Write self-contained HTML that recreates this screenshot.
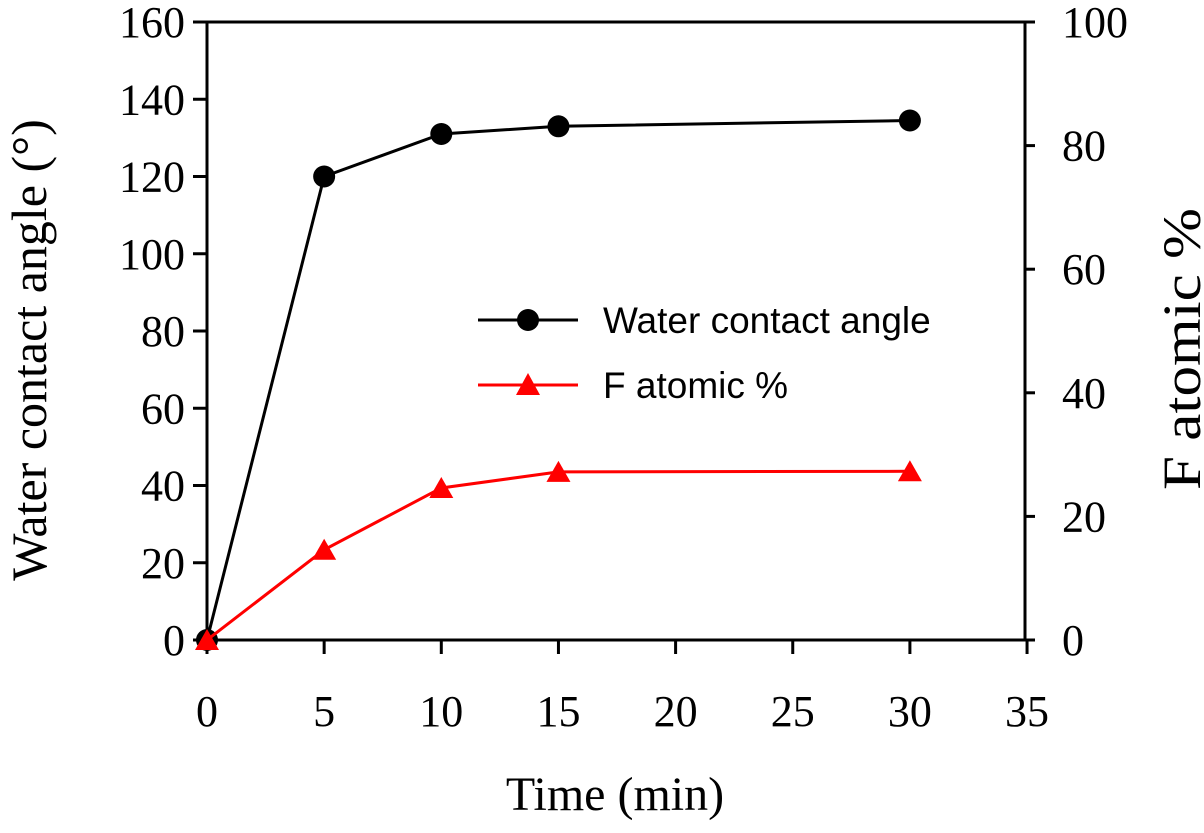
<!DOCTYPE html>
<html><head><meta charset="utf-8"><style>
body{margin:0;background:#fff}
svg text{font-family:"Liberation Serif",serif;fill:#000}
</style></head><body>
<svg width="1204" height="828" viewBox="0 0 1204 828">
<g id="axes"></g><g id="series"></g>
<g>
<line x1="478" y1="320" x2="578" y2="320" stroke="#000" stroke-width="3"/>
<circle cx="528" cy="320" r="11" fill="#000"/>
<text x="603" y="333" font-size="37" style="font-family:'Liberation Sans',sans-serif">Water contact angle</text>
<line x1="478" y1="385" x2="578" y2="385" stroke="#f00" stroke-width="3"/>
<polygon points="528,373 540,395 516,395" fill="#f00"/>
<text x="603" y="398" font-size="37" style="font-family:'Liberation Sans',sans-serif">F atomic %</text>
</g>
<text x="615" y="810" font-size="48" text-anchor="middle">Time (min)</text>
<text transform="translate(46,350) rotate(-90)" font-size="50" text-anchor="middle">Water contact angle (°)</text>
<text transform="translate(1200,490) rotate(-90)" font-size="54" textLength="282" lengthAdjust="spacingAndGlyphs">F atomic %</text>
</svg>
<script>
const times=[0,5,10,15,30];
const wca=[0,120,131,133,134.5];
const fat=[0,14.6,24.6,27.2,27.3];
const xTicks=[0,5,10,15,20,25,30,35];
const yLTicks=[0,20,40,60,80,100,120,140,160];
const yRTicks=[0,20,40,60,80,100];
const X0=207,X1=1025,Y0=640,Y1=22;
const x=v=>X0+v*23.43;
const yl=v=>Y0-v*(Y0-Y1)/160;
const yr=v=>Y0-v*(Y0-Y1)/100;
const NS="http://www.w3.org/2000/svg";
function mk(t,a,p,txt){const e=document.createElementNS(NS,t);for(const k in a)e.setAttribute(k,a[k]);if(txt!==undefined)e.textContent=txt;p.appendChild(e);return e;}
const ax=document.getElementById('axes'),se=document.getElementById('series');
const fr=mk('path',{d:`M${X0} ${Y1}H1035M${X0} ${Y1}V${Y0}H${X1}V${Y1}`,fill:'none',stroke:'#000','stroke-width':3},ax);


xTicks.forEach(v=>{mk('line',{x1:x(v),x2:x(v),y1:Y0,y2:Y0+14,stroke:'#000','stroke-width':3},ax);
const t=mk('text',{x:x(v),y:Y0+86,'font-size':44,'text-anchor':'middle'},ax,v);

});
yLTicks.forEach(v=>{mk('line',{x1:X0-14,x2:X0,y1:yl(v),y2:yl(v),stroke:'#000','stroke-width':3},ax);
const t=mk('text',{x:X0-22,y:yl(v)+15,'font-size':44,'text-anchor':'end'},ax,v);

});
yRTicks.forEach(v=>{mk('line',{x1:X1,x2:X1+10,y1:yr(v),y2:yr(v),stroke:'#000','stroke-width':3},ax);
const t=mk('text',{x:X1+37,y:yr(v)+15,'font-size':44},ax,v);

});
const l1=mk('polyline',{points:times.map((t,i)=>x(t)+','+yl(wca[i])).join(' '),fill:'none',stroke:'#000','stroke-width':3},se);


times.forEach((t,i)=>{const c=mk('circle',{cx:x(t),cy:yl(wca[i]),r:11,fill:'#000'},se);

});
const l2=mk('polyline',{points:times.map((t,i)=>x(t)+','+yr(fat[i])).join(' '),fill:'none',stroke:'#f00','stroke-width':3},se);


times.forEach((t,i)=>{const cx=x(t),cy=yr(fat[i]);const p=mk('polygon',{points:`${cx},${cy-11} ${cx+12},${cy+10} ${cx-12},${cy+10}`,fill:'#f00'},se);

});
</script>
</body></html>
